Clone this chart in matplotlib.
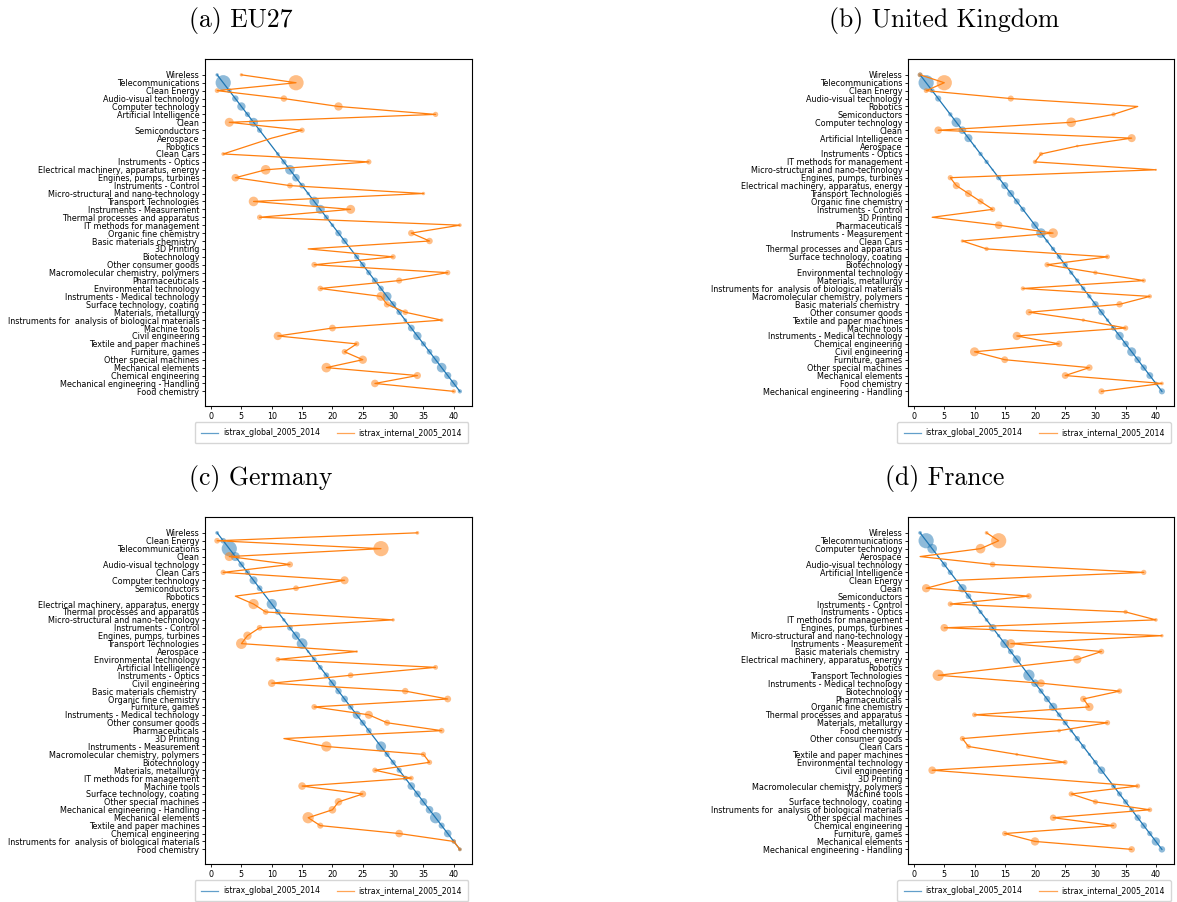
import numpy as np
import matplotlib
matplotlib.use("Agg")
import matplotlib.pyplot as plt

# --- EU27 ---
EU_CATS = [
    "Wireless", "Telecommunications", "Clean Energy", "Audio-visual technology",
    "Computer technology", "Artificial Intelligence", "Clean", "Semiconductors",
    "Aerospace", "Robotics", "Clean Cars", "Instruments - Optics",
    "Electrical machinery, apparatus, energy", "Engines, pumps, turbines",
    "Instruments - Control", "Micro-structural and nano-technology",
    "Transport Technologies", "Instruments - Measurement",
    "Thermal processes and apparatus", "IT methods for management",
    "Organic fine chemistry", "Basic materials chemistry ", "3D Printing",
    "Biotechnology", "Other consumer goods", "Macromolecular chemistry, polymers",
    "Pharmaceuticals", "Environmental technology", "Instruments - Medical technology",
    "Surface technology, coating", "Materials, metallurgy",
    "Instruments for  analysis of biological materials", "Machine tools",
    "Civil engineering", "Textile and paper machines", "Furniture, games",
    "Other special machines", "Mechanical elements", "Chemical engineering",
    "Mechanical engineering - Handling", "Food chemistry",
]
EU_INTERNAL = [5, 14, 1, 12, 21, 37, 3, 15, 10, 6, 2, 26, 9, 4, 13, 35, 7, 23, 8, 41,
               33, 36, 16, 30, 17, 39, 31, 18, 28, 29, 32, 38, 20, 11, 24, 22, 25, 19,
               34, 27, 40]
EU_SIZE = [5, 100, 10, 18, 30, 12, 35, 12, 0, 0, 6, 12, 40, 25, 14, 5, 40, 35, 12, 6,
           18, 18, 0, 12, 14, 12, 16, 14, 35, 18, 14, 6, 20, 30, 12, 14, 30, 40, 22,
           25, 8]

# --- United Kingdom ---
UK_CATS = [
    "Wireless", "Telecommunications", "Clean Energy", "Audio-visual technology",
    "Robotics", "Semiconductors", "Computer technology", "Clean",
    "Artificial Intelligence", "Aerospace", "Instruments - Optics",
    "IT methods for management", "Micro-structural and nano-technology",
    "Engines, pumps, turbines", "Electrical machinery, apparatus, energy",
    "Transport Technologies", "Organic fine chemistry", "Instruments - Control",
    "3D Printing", "Pharmaceuticals", "Instruments - Measurement", "Clean Cars",
    "Thermal processes and apparatus", "Surface technology, coating",
    "Biotechnology", "Environmental technology", "Materials, metallurgy",
    "Instruments for  analysis of biological materials",
    "Macromolecular chemistry, polymers", "Basic materials chemistry ",
    "Other consumer goods", "Textile and paper machines", "Machine tools",
    "Instruments - Medical technology", "Chemical engineering", "Civil engineering",
    "Furniture, games", "Other special machines", "Mechanical elements",
    "Food chemistry", "Mechanical engineering - Handling",
]
UK_INTERNAL = [1, 5, 2, 16, 37, 33, 26, 4, 36, 27, 21, 20, 40, 6, 7, 9, 11, 13, 3, 14,
               23, 8, 12, 32, 22, 30, 38, 18, 39, 34, 19, 28, 35, 17, 24, 10, 15, 29,
               25, 41, 31]
UK_SIZE = [10, 100, 10, 16, 0, 8, 40, 25, 28, 3, 8, 8, 2, 12, 22, 22, 16, 12, 0, 25,
           40, 5, 8, 10, 12, 8, 8, 8, 8, 18, 18, 5, 12, 30, 18, 35, 20, 18, 20, 6, 16]

# --- Germany ---
DE_CATS = [
    "Wireless", "Clean Energy", "Telecommunications", "Clean",
    "Audio-visual technology", "Clean Cars", "Computer technology", "Semiconductors",
    "Robotics", "Electrical machinery, apparatus, energy",
    "Thermal processes and apparatus", "Micro-structural and nano-technology",
    "Instruments - Control", "Engines, pumps, turbines", "Transport Technologies",
    "Aerospace", "Environmental technology", "Artificial Intelligence",
    "Instruments - Optics", "Civil engineering", "Basic materials chemistry ",
    "Organic fine chemistry", "Furniture, games", "Instruments - Medical technology",
    "Other consumer goods", "Pharmaceuticals", "3D Printing",
    "Instruments - Measurement", "Macromolecular chemistry, polymers",
    "Biotechnology", "Materials, metallurgy", "IT methods for management",
    "Machine tools", "Surface technology, coating", "Other special machines",
    "Mechanical engineering - Handling", "Mechanical elements",
    "Textile and paper machines", "Chemical engineering",
    "Instruments for  analysis of biological materials", "Food chemistry",
]
DE_INTERNAL = [34, 1, 28, 3, 13, 2, 22, 14, 4, 7, 9, 30, 8, 6, 5, 24, 11, 37, 23, 10,
               32, 39, 17, 26, 29, 38, 12, 19, 35, 36, 27, 33, 15, 25, 21, 20, 16, 18,
               31, 40, 41]
DE_SIZE = [6, 14, 100, 35, 16, 12, 28, 14, 0, 45, 14, 5, 14, 30, 50, 3, 10, 10, 14, 25,
           18, 20, 14, 28, 16, 14, 0, 45, 12, 12, 12, 10, 25, 20, 25, 25, 55, 16, 25,
           8, 6]

# --- France ---
FR_CATS = [
    "Wireless", "Telecommunications", "Computer technology", "Aerospace",
    "Audio-visual technology", "Artificial Intelligence", "Clean Energy", "Clean",
    "Semiconductors", "Instruments - Control", "Instruments - Optics",
    "IT methods for management", "Engines, pumps, turbines",
    "Micro-structural and nano-technology", "Instruments - Measurement",
    "Basic materials chemistry ", "Electrical machinery, apparatus, energy",
    "Robotics", "Transport Technologies", "Instruments - Medical technology",
    "Biotechnology", "Pharmaceuticals", "Organic fine chemistry",
    "Thermal processes and apparatus", "Materials, metallurgy", "Food chemistry",
    "Other consumer goods", "Clean Cars", "Textile and paper machines",
    "Environmental technology", "Civil engineering", "3D Printing",
    "Macromolecular chemistry, polymers", "Machine tools",
    "Surface technology, coating", "Instruments for  analysis of biological materials",
    "Other special machines", "Chemical engineering", "Furniture, games",
    "Mechanical elements", "Mechanical engineering - Handling",
]
FR_INTERNAL = [12, 14, 11, 1, 13, 38, 7, 2, 19, 6, 35, 40, 5, 41, 16, 31, 27, np.nan,
               4, 21, 34, 28, 29, 10, 32, 24, 8, 9, 17, 25, 3, np.nan, 37, 26, 30, 39,
               23, 33, 15, 20, 36]
FR_SIZE = [6, 100, 40, 0, 14, 12, 0, 30, 14, 12, 8, 6, 25, 5, 35, 14, 30, 0, 55, 25,
           12, 18, 30, 10, 12, 6, 12, 10, 4, 10, 25, 0, 10, 12, 12, 10, 18, 18, 12,
           30, 18]

GLOBAL_RANK = [1, 2, 3, 4, 5, 6, 7, 8, 9, 10, 11, 12, 13, 14, 15, 16, 17, 18, 19, 20,
               21, 22, 23, 24, 25, 26, 27, 28, 29, 30, 31, 32, 33, 34, 35, 36, 37, 38,
               39, 40, 41]

BLUE = "#1f77b4"
ORANGE = "#ff7f0e"
SIZE_SCALE = 1.2

W, H = 1177, 902
fig = plt.figure(figsize=(W / 100, H / 100), dpi=100)


def px_axes(left, top, right, bottom):
    return fig.add_axes([left / W, 1 - bottom / H, (right - left) / W, (bottom - top) / H])


def rank_panel(ax, cats, internal, sizes):
    y = np.arange(len(cats))
    glob = np.array(GLOBAL_RANK, dtype=float)
    intl = np.array(internal, dtype=float)
    s = np.array(sizes, dtype=float) * SIZE_SCALE
    ok = ~np.isnan(intl)
    l1, = ax.plot(glob, y, color=BLUE, lw=0.9, label="istrax_global_2005_2014")
    l2, = ax.plot(intl[ok], y[ok], color=ORANGE, lw=0.9, label="istrax_internal_2005_2014")
    ax.scatter(glob, y, s=s, color=BLUE, alpha=0.5, linewidths=0)
    ax.scatter(intl[ok], y[ok], s=s[ok], color=ORANGE, alpha=0.5, linewidths=0)
    ax.set_yticks(y)
    ax.set_yticklabels(cats, fontsize=5.75)
    ax.set_xticks(np.arange(0, 45, 5))
    ax.tick_params(axis="x", labelsize=5.75, length=2.5, width=0.6, pad=2)
    ax.tick_params(axis="y", length=2.5, width=0.6, pad=1.5)
    ax.set_xlim(-1, 43)
    ax.set_ylim(len(cats) + 0.85, -2)
    for sp in ax.spines.values():
        sp.set_linewidth(0.8)
    leg = ax.legend(handles=[l1, l2], ncol=2, fontsize=5.6, loc="upper center",
                    bbox_to_anchor=(0.474, -0.035), frameon=True, handlelength=2.2,
                    handletextpad=0.6, columnspacing=2.2, borderpad=0.8,
                    fancybox=True, framealpha=0.8, edgecolor="#cccccc")
    for h in leg.get_lines():
        h.set_alpha(0.7)


ax_a = px_axes(205, 59, 472, 406)
rank_panel(ax_a, EU_CATS, EU_INTERNAL, EU_SIZE)
ax_b = px_axes(908, 59, 1174, 406)
rank_panel(ax_b, UK_CATS, UK_INTERNAL, UK_SIZE)
ax_c = px_axes(205, 517, 472, 864)
rank_panel(ax_c, DE_CATS, DE_INTERNAL, DE_SIZE)
ax_d = px_axes(908, 517, 1174, 864)
rank_panel(ax_d, FR_CATS, FR_INTERNAL, FR_SIZE)

# panel captions
for txt, cx, cy in [("(a) EU27", 241, 20), ("(b) United Kingdom", 944, 20),
                    ("(c) Germany", 261, 478), ("(d) France", 945, 478)]:
    fig.text(cx / W, 1 - cy / H, txt, fontsize=18.5, family="cmr10",
             ha="center", va="center")

fig.savefig("out.png", dpi=100)
